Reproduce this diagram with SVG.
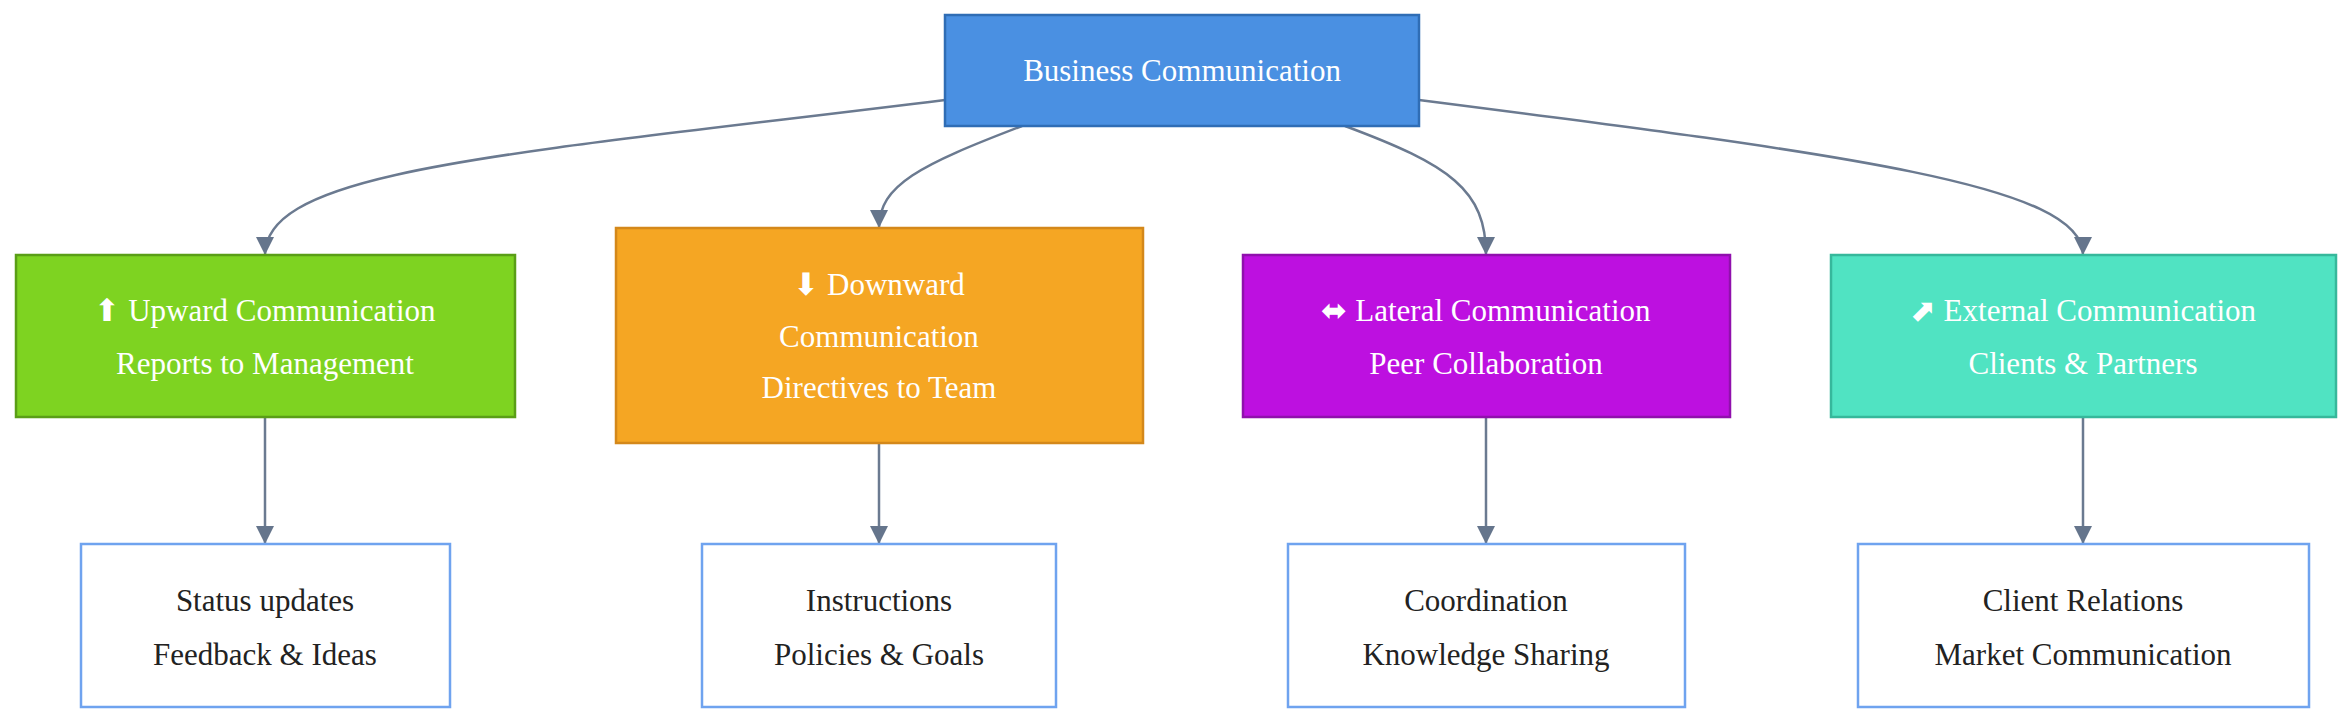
<svg xmlns="http://www.w3.org/2000/svg" width="2352" height="725" viewBox="0 0 2352 725">
<defs>
<marker id="ah" viewBox="0 0 10 10" refX="10" refY="5" markerWidth="7" markerHeight="7" markerUnits="userSpaceOnUse" orient="auto"><path d="M0,0 L10,5 L0,10 z" fill="#65758c"/></marker>
<style>
text{font-family:"Liberation Serif",serif;font-size:31px;text-anchor:middle;dominant-baseline:central}
.w{fill:#fff}.d{fill:#222}
.e{fill:none;stroke:#6b7a90;stroke-width:2.5;marker-end:url(#ah)}
.b{fill:#fff;stroke:#6fa3ef;stroke-width:2.5}
</style>
<marker id="ah2" viewBox="0 0 10 10" refX="10" refY="5" markerWidth="18" markerHeight="18" markerUnits="userSpaceOnUse" orient="auto"><path d="M0,0 L10,5 L0,10 z" fill="#65758c"/></marker>
</defs>
<rect width="2352" height="725" fill="#fff"/>
<g id="connectors">
<path class="e" style="marker-end:url(#ah2)" d="M945,100 C500,155 265,170 265,255"/>
<path class="e" style="marker-end:url(#ah2)" d="M1022,126 C920,165 879,185 879,228"/>
<path class="e" style="marker-end:url(#ah2)" d="M1345,126 C1450,165 1486,190 1486,255"/>
<path class="e" style="marker-end:url(#ah2)" d="M1419,100 C1850,155 2083,185 2083,255"/>
<path class="e" style="marker-end:url(#ah2)" d="M265,417 V544"/>
<path class="e" style="marker-end:url(#ah2)" d="M879,443 V544"/>
<path class="e" style="marker-end:url(#ah2)" d="M1486,417 V544"/>
<path class="e" style="marker-end:url(#ah2)" d="M2083,417 V544"/>
</g>
<g id="root"><rect x="945" y="15" width="474" height="111" fill="#4a90e2" stroke="#2f6db5" stroke-width="2.5"/><text class="w" x="1182" y="70">Business Communication</text></g>
<g id="upward"><rect x="16" y="255" width="499" height="162" fill="#7ed321" stroke="#5a9e16" stroke-width="2.5"/><text class="w" x="265" y="310">⬆ Upward Communication</text><text class="w" x="265" y="363">Reports to Management</text></g>
<g id="downward"><rect x="616" y="228" width="527" height="215" fill="#f5a623" stroke="#d4881a" stroke-width="2.5"/><text class="w" x="879" y="284">⬇ Downward</text><text class="w" x="879" y="336">Communication</text><text class="w" x="879" y="387">Directives to Team</text></g>
<g id="lateral"><rect x="1243" y="255" width="487" height="162" fill="#bd10e0" stroke="#9010ad" stroke-width="2.5"/><text class="w" x="1486" y="310">⬌ Lateral Communication</text><text class="w" x="1486" y="363">Peer Collaboration</text></g>
<g id="external"><rect x="1831" y="255" width="505" height="162" fill="#50e3c2" stroke="#36b89b" stroke-width="2.5"/><text class="w" x="2083" y="310">⬈ External Communication</text><text class="w" x="2083" y="363">Clients &amp; Partners</text></g>
<g id="up-detail"><rect class="b" x="81" y="544" width="369" height="163"/><text class="d" x="265" y="600">Status updates</text><text class="d" x="265" y="654">Feedback &amp; Ideas</text></g>
<g id="down-detail"><rect class="b" x="702" y="544" width="354" height="163"/><text class="d" x="879" y="600">Instructions</text><text class="d" x="879" y="654">Policies &amp; Goals</text></g>
<g id="lat-detail"><rect class="b" x="1288" y="544" width="397" height="163"/><text class="d" x="1486" y="600">Coordination</text><text class="d" x="1486" y="654">Knowledge Sharing</text></g>
<g id="ext-detail"><rect class="b" x="1858" y="544" width="451" height="163"/><text class="d" x="2083" y="600">Client Relations</text><text class="d" x="2083" y="654">Market Communication</text></g>
</svg>
